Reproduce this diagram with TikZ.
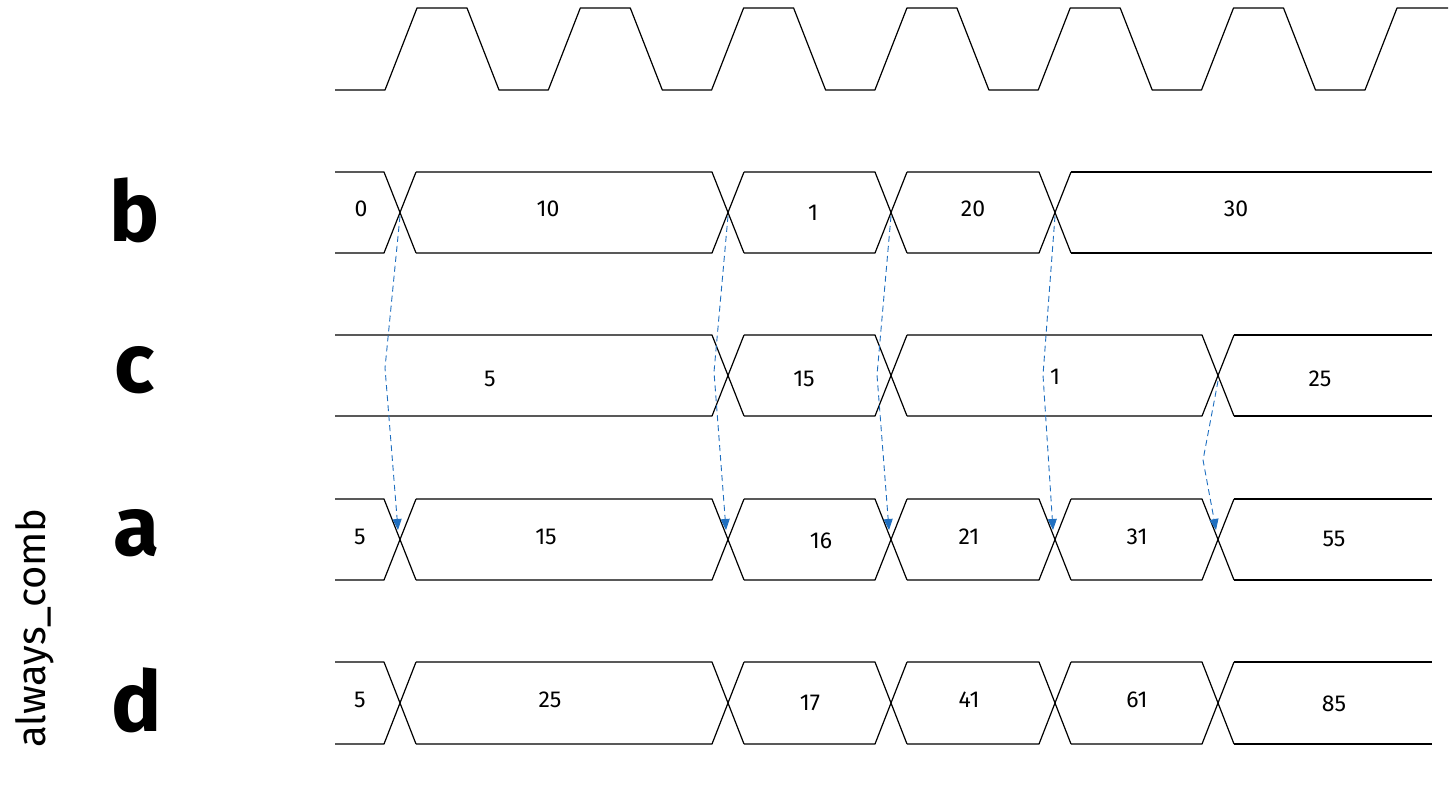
\documentclass[tikz,border=0pt]{standalone}
\usepackage{fontspec}
\setmainfont{Fira Sans}
\usetikzlibrary{arrows.meta}
\definecolor{arrblue}{HTML}{1F6FC0}
\tikzset{
  wave/.style={line width=1.2pt,black,line join=round},
  val/.style={font=\fontsize{23}{27}\selectfont},
  sig/.style={font=\fontsize{84}{90}\selectfont\bfseries},
  dep/.style={arrblue,dashed,dash pattern=on 6pt off 4pt,line width=0.9pt,-{Triangle[length=11pt,width=9pt]}}
}
% \busline{top}{bottom}{crossings}
\newcommand{\busline}[3]{%
  \def\prevx{335}%
  \foreach \c in {#3}{%
    \draw[wave] (\prevx,-#1) -- (\c-16,-#1) -- (\c+16,-#2);
    \draw[wave] (\prevx,-#2) -- (\c-16,-#2) -- (\c+16,-#1);
    \xdef\prevx{\the\numexpr\c+16\relax}%
  }%
  \draw[wave] (\prevx,-#1) -- (1432,-#1);
  \draw[wave] (\prevx,-#2) -- (1432,-#2);
}
\begin{document}
\begin{tikzpicture}[x=1pt,y=1pt]
\useasboundingbox (0,0) rectangle (1456,-788);
% clock
\draw[wave] (335,-90)
  \foreach \k in {0,...,5}{ -- ({385+163.3*\k},-90) -- ({417+163.3*\k},-8) -- ({467+163.3*\k},-8) -- ({499+163.3*\k},-90)}
  -- (1365,-90) -- (1397,-8) -- (1448,-8);
% buses
\busline{172}{253}{400,728,891,1055}
\busline{335}{416}{728,891,1218}
\busline{499}{580}{400,728,891,1055,1218}
\busline{662}{744}{400,728,891,1055,1218}
% signal labels
\node[sig] (lb) at (135,-210) {b};
\node[sig] (lc) at (135,-370) {c};
\node[sig] (la) at (137,-533) {a};
\node[sig] (ld) at (137,-700) {d};
\node[font=\fontsize{40}{46}\selectfont,rotate=90] (ac) at (35,-628) {always\_comb};
% values
\node[val] (b0) at (361,-209) {0};
\node[val] (b1) at (548,-209) {10};
\node[val] (b2) at (813,-213) {1};
\node[val] (b3) at (973,-209) {20};
\node[val] (b4) at (1236,-209) {30};
\node[val] (c1) at (490,-379) {5};
\node[val] (c2) at (804,-379) {15};
\node[val] (c3) at (1055,-377) {1};
\node[val] (c4) at (1320,-379) {25};
\node[val] (a0) at (360,-537) {5};
\node[val] (a1) at (546,-537) {15};
\node[val] (a2) at (821,-541) {16};
\node[val] (a3) at (969,-537) {21};
\node[val] (a4) at (1137,-537) {31};
\node[val] (a5) at (1334,-539) {55};
\node[val] (d0) at (360,-700) {5};
\node[val] (d1) at (550,-700) {25};
\node[val] (d2) at (810,-703) {17};
\node[val] (d3) at (969,-700) {41};
\node[val] (d4) at (1137,-700) {61};
\node[val] (d5) at (1334,-704) {85};
% crossing points
\foreach \n/\x in {1/400,2/728,3/891,4/1055}{
  \coordinate (bx\n) at (\x,-216);
  \coordinate (ax\n) at (\x-2,-530);
}
\coordinate (cx5) at (1218,-381);
\coordinate (ax5) at (1216,-530);
% dependency arrows
\draw[dep] (bx1) -- (385,-368) -- (ax1);
\draw[dep] (bx2) -- (714,-372) -- (ax2);
\draw[dep] (bx3) -- (877,-375) -- (ax3);
\draw[dep] (bx4) -- (1043,-375) -- (ax4);
\draw[dep] (cx5) -- (1203,-460) -- (ax5);
\end{tikzpicture}
\end{document}
